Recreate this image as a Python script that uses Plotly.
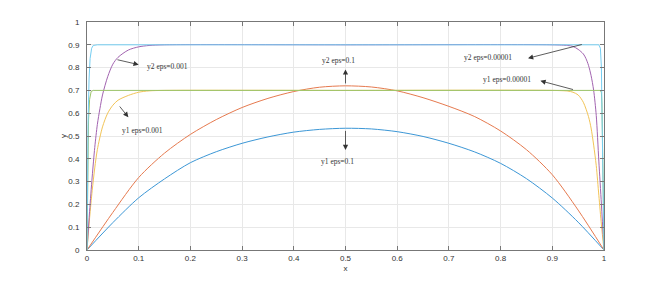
import plotly.graph_objects as go

# ---- data ----
x_y1_e1 = [0, 0.05, 0.1, 0.15, 0.2, 0.25, 0.3, 0.35, 0.4, 0.45, 0.5,
           0.55, 0.6, 0.65, 0.7, 0.75, 0.8, 0.85, 0.9, 0.95, 1.0]
y1_e1 = [0, 0.12, 0.229, 0.312, 0.383, 0.431, 0.468, 0.496, 0.517, 0.529, 0.534,
         0.531, 0.519, 0.498, 0.468, 0.43, 0.38, 0.313, 0.228, 0.122, 0]

x_y2_e1 = [0, 0.05, 0.1, 0.15, 0.2, 0.25, 0.3, 0.35, 0.4, 0.45, 0.5,
           0.55, 0.6, 0.65, 0.7, 0.75, 0.8, 0.85, 0.9, 0.95, 1.0]
y2_e1 = [0, 0.165, 0.318, 0.425, 0.507, 0.572, 0.625, 0.665, 0.695, 0.714, 0.72,
         0.715, 0.698, 0.668, 0.63, 0.585, 0.522, 0.44, 0.33, 0.175, 0]

x_y1_e3 = [0, 0.005, 0.01, 0.015, 0.02, 0.03, 0.04, 0.05, 0.06, 0.08, 0.1, 0.12, 0.15,
           0.5, 0.9, 0.93, 0.94, 0.95, 0.96, 0.97, 0.975, 0.98, 0.985, 0.99, 0.995, 1.0]
y1_e3 = [0, 0.14, 0.26, 0.36, 0.44, 0.54, 0.6, 0.635, 0.657, 0.678, 0.692, 0.698, 0.7,
         0.7, 0.7, 0.697, 0.692, 0.68, 0.648, 0.585, 0.535, 0.46, 0.37, 0.24, 0.11, 0]

x_y2_e3 = [0, 0.005, 0.01, 0.015, 0.02, 0.025, 0.03, 0.04, 0.05, 0.06, 0.08, 0.1, 0.12, 0.15,
           0.5, 0.9, 0.93, 0.94, 0.95, 0.96, 0.965, 0.97, 0.975, 0.98, 0.985, 0.99, 0.995, 1.0]
y2_e3 = [0, 0.17, 0.32, 0.45, 0.55, 0.62, 0.68, 0.76, 0.815, 0.845, 0.877, 0.891, 0.897, 0.9,
         0.9, 0.9, 0.897, 0.893, 0.88, 0.86, 0.84, 0.81, 0.765, 0.7, 0.59, 0.39, 0.2, 0]

x_y1_e5 = [0, 0.001, 0.002, 0.003, 0.005, 0.008, 0.012, 0.5,
           0.993, 0.995, 0.996, 0.997, 0.998, 0.999, 1.0]
y1_e5 = [0, 0.25, 0.45, 0.57, 0.66, 0.695, 0.7, 0.7,
         0.7, 0.69, 0.64, 0.5, 0.32, 0.16, 0]

x_y2_e5 = [0, 0.001, 0.002, 0.004, 0.006, 0.009, 0.012, 0.02, 0.5,
           0.99, 0.993, 0.995, 0.996, 0.997, 0.998, 0.999, 1.0]
y2_e5 = [0, 0.3, 0.55, 0.75, 0.84, 0.885, 0.897, 0.9, 0.9,
         0.9, 0.885, 0.8, 0.62, 0.42, 0.26, 0.12, 0]

series_names = ["y1 eps=0.1", "y2 eps=0.1", "y1 eps=0.001",
                "y2 eps=0.001", "y1 eps=0.00001", "y2 eps=0.00001"]
series_x = [x_y1_e1, x_y2_e1, x_y1_e3, x_y2_e3, x_y1_e5, x_y2_e5]
series_y = [y1_e1, y2_e1, y1_e3, y2_e3, y1_e5, y2_e5]
colors = ["#3C97D6", "#E67A4F", "#F2C457", "#A263B0", "#9CC46A", "#74CDF1"]
shapes_ = ["spline", "spline", "spline", "spline", "linear", "linear"]

tick_vals = [0, 0.1, 0.2, 0.3, 0.4, 0.5, 0.6, 0.7, 0.8, 0.9, 1]
tick_text = ["0", "0.1", "0.2", "0.3", "0.4", "0.5", "0.6", "0.7", "0.8", "0.9", "1"]

# annotation labels: (text, text_x, text_y, tail_x, tail_y, head_x, head_y)
labels = [
    ("y2 eps=0.001", 0.155, 0.807, 0.056, 0.836, 0.100, 0.813),
    ("y1 eps=0.001", 0.108, 0.526, 0.061, 0.636, 0.080, 0.582),
    ("y2 eps=0.1", 0.487, 0.830, 0.5, 0.724, 0.5, 0.792),
    ("y1 eps=0.1", 0.484, 0.390, 0.5, 0.529, 0.5, 0.439),
    ("y2 eps=0.00001", 0.776, 0.845, 0.960, 0.903, 0.853, 0.841),
    ("y1 eps=0.00001", 0.813, 0.746, 0.943, 0.702, 0.877, 0.742),
]

fig = go.Figure()
for name, xs, ys, c, sh in zip(series_names, series_x, series_y, colors, shapes_):
    fig.add_trace(go.Scatter(x=xs, y=ys, mode="lines", name=name,
                             line=dict(color=c, width=1, shape=sh, smoothing=0.8)))

annotations = []
for text, tx, ty, ax0, ay0, hx, hy in labels:
    annotations.append(dict(x=hx, y=hy, ax=ax0, ay=ay0, xref="x", yref="y",
                            axref="x", ayref="y", text="", showarrow=True,
                            arrowhead=2, arrowsize=1.3, arrowwidth=0.8,
                            arrowcolor="#333", standoff=0, startstandoff=0))
    annotations.append(dict(x=tx, y=ty, xref="x", yref="y", text=text,
                            showarrow=False,
                            font=dict(family="Liberation Serif, DejaVu Serif, serif",
                                      size=7.5, color="#333")))

axis_common = dict(
    range=[0, 1], tickvals=tick_vals, ticktext=tick_text, automargin=False,
    showgrid=True, gridcolor="#e8e8e8", gridwidth=1,
    zeroline=False, showline=True, linecolor="#777", linewidth=1,
    mirror="ticks", ticks="inside", ticklen=4, tickcolor="#777",
    tickfont=dict(family="Liberation Sans, Arial, sans-serif", size=8, color="#333"),
)

# page body adds an 8px offset; margins compensate so the plot box sits at (87..604, 22..250)
fig.update_layout(
    width=667, height=281,
    margin=dict(l=79, r=71, t=14, b=39, autoexpand=False),
    paper_bgcolor="white", plot_bgcolor="white",
    showlegend=False,
    xaxis=dict(**axis_common, title=dict(text="x", standoff=3,
               font=dict(family="Liberation Sans, Arial, sans-serif", size=8, color="#333"))),
    yaxis=dict(**axis_common, title=dict(text="y", standoff=0,
               font=dict(family="Liberation Sans, Arial, sans-serif", size=8, color="#333"))),
    annotations=annotations,
)
fig.update_xaxes(ticklabelstandoff=0)
fig.update_yaxes(ticklabelstandoff=5)

fig.write_html("out.html")
